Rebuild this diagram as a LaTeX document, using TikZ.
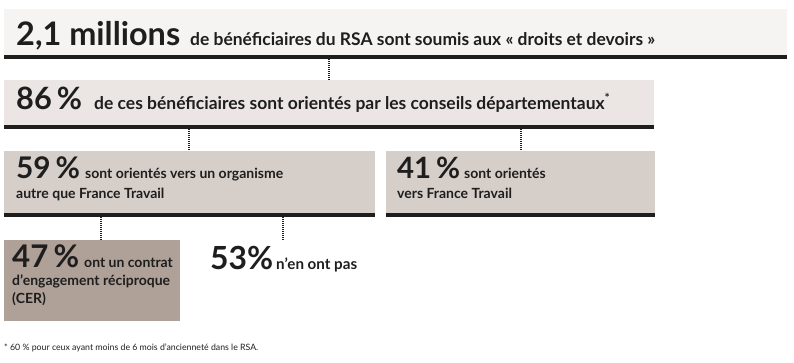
\documentclass[tikz,border=0pt]{standalone}
\usepackage{fontspec}
\usepackage{graphicx}
\setmainfont{Lato}
\definecolor{cA}{HTML}{F5F4F2}
\definecolor{cB}{HTML}{EBE6E3}
\definecolor{cC}{HTML}{D6CEC9}
\definecolor{cD}{HTML}{B0A198}
\definecolor{ink}{HTML}{1E1E1E}
\newcommand{\fitw}[2]{\resizebox{#1pt}{!}{#2}}
\begin{document}
\begin{tikzpicture}[x=1pt,y=-1pt,
  panel/.style={draw=none,inner sep=0pt,anchor=north west},
  barline/.style={fill=ink,draw=none,inner sep=0pt,anchor=north west,minimum height=4pt},
  dotline/.style={draw=ink,line width=1.1pt,dash pattern=on 1pt off 1pt},
  txt/.style={inner sep=0pt,anchor=base west,text=ink,font=\bfseries\fontsize{20}{20}\selectfont},
  body/.style={inner sep=0pt,anchor=base west,text=ink,font=\bfseries\fontsize{14}{14}\selectfont},
  note/.style={inner sep=0pt,anchor=base west,text=ink,font=\fontsize{10}{10}\selectfont},
]
\useasboundingbox (0,0) rectangle (794,362);
% boxes
\node[panel,fill=cA,minimum width=783pt,minimum height=46pt] (b1) at (4,9) {};
\node[barline,minimum width=783pt] (r1) at (4,55) {};
\node[panel,fill=cB,minimum width=650pt,minimum height=45pt] (b2) at (4,80) {};
\node[barline,minimum width=650pt] (r2) at (4,125) {};
\node[panel,fill=cC,minimum width=371pt,minimum height=62pt] (b3) at (4,151) {};
\node[barline,minimum width=371pt] (r3) at (4,213) {};
\node[panel,fill=cC,minimum width=269pt,minimum height=62pt] (b4) at (386,151) {};
\node[barline,minimum width=269pt] (r4) at (386,213) {};
\node[panel,fill=cD,minimum width=176pt,minimum height=81pt] (b5) at (4,240) {};
% connector x positions
\coordinate (x1) at (329,0);
\coordinate (x2) at (189,0);
\coordinate (x3) at (521,0);
\coordinate (x4) at (101,0);
\coordinate (x5) at (283,0);
\coordinate (t53) at (283,240);
\draw[dotline] (r1.south -| x1) -- (b2.north -| x1);
\draw[dotline] (r2.south -| x2) -- (b3.north -| x2);
\draw[dotline] (r2.south -| x3) -- (b4.north -| x3);
\draw[dotline] (r3.south -| x4) -- (b5.north -| x4);
\draw[dotline] (r3.south -| x5) -- (t53);
% texts
\node[txt] (t1n) at (16,45) {\fitw{164}{2,1 millions}};
\node[txt] (t1) at (190,45) {\fitw{465}{de bénéficiaires du RSA sont soumis aux « droits et devoirs »}};
\node[txt] (t2n) at (16,109) {\fitw{66}{86\,\%}};
\node[txt] (t2) at (94,109) {\fitw{516}{de ces bénéficiaires sont orientés par les conseils départementaux\textsuperscript{*}}};
\node[txt] (t3n) at (16,178) {\fitw{64}{59\,\%}};
\node[body] (t3a) at (85,178) {sont orientés vers un organisme};
\node[body] (t3b) at (16,198) {autre que France Travail};
\node[txt] (t4n) at (397,178) {\fitw{63}{41\,\%}};
\node[body] (t4a) at (464,178) {sont orientés};
\node[body] (t4b) at (397,198) {vers France Travail};
\node[txt] (t5n) at (12,267) {\fitw{67}{47\,\%}};
\node[body] (t5a) at (84,267) {ont un contrat};
\node[body] (t5b) at (12,285) {d’engagement réciproque};
\node[body] (t5c) at (12,303) {(CER)};
\node[txt] (t6n) at (210,269) {\fitw{63}{53\%}};
\node[txt] (t6) at (276,269) {\fitw{81}{n’en ont pas}};
\node[note] (fn) at (4,350) {\fitw{254}{* 60 \% pour ceux ayant moins de 6 mois d’ancienneté dans le RSA.}};
\end{tikzpicture}
\end{document}
